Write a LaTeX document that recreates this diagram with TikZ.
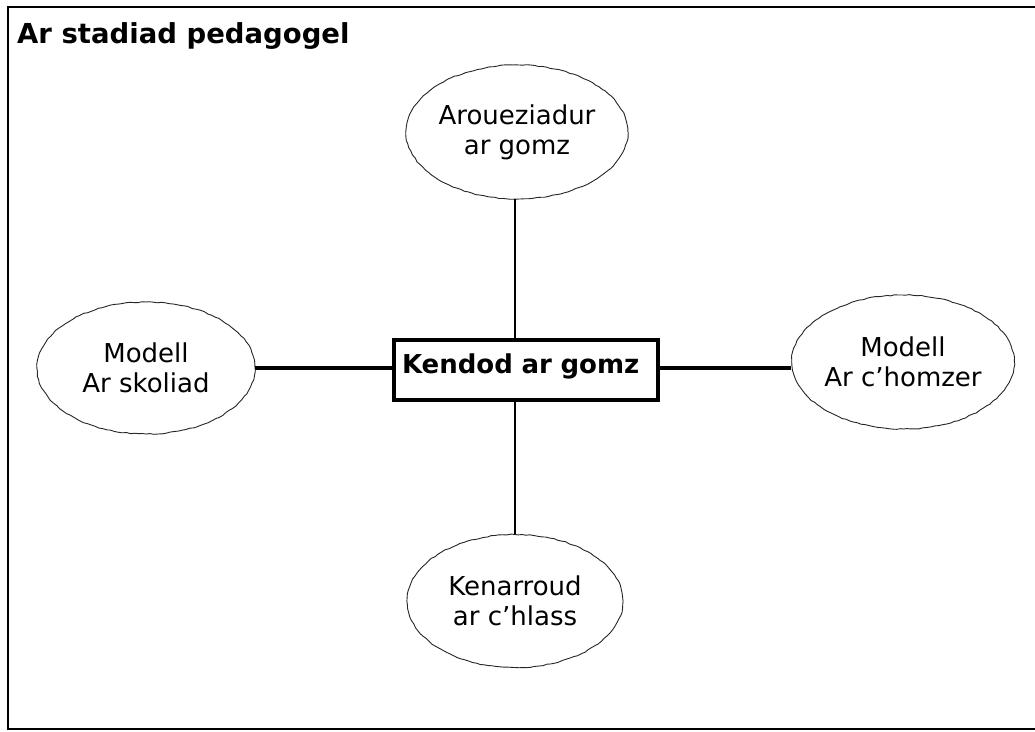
\documentclass[tikz,border=0pt]{standalone}
\usepackage{fontspec}
\setmainfont{DejaVu Sans}
\usetikzlibrary{shapes.geometric,decorations.pathmorphing}

\tikzset{
  topic/.style={ellipse, draw=black!85, line width=0.9pt, inner sep=0pt,
    align=center, font=\fontsize{26}{30}\selectfont,
    decorate, decoration={random steps, segment length=4pt, amplitude=0.5pt}},
  corebox/.style={draw, line width=4pt, minimum width=264pt, minimum height=60pt,
    text width=248pt, align=left, inner xsep=8pt, inner ysep=0pt,
    text height=20pt, text depth=14pt,
    font=\bfseries\fontsize{26}{30}\selectfont},
  heading/.style={anchor=base west, inner sep=0pt,
    font=\bfseries\fontsize{27.5}{32}\selectfont},
  vlink/.style={line width=2.5pt},
  hlink/.style={line width=4pt},
  frame/.style={line width=2.5pt},
}

\begin{document}
\begin{tikzpicture}[x=1pt, y=-1pt]
  \useasboundingbox (0,0) rectangle (1035,731);
  \clip (0,0) rectangle (1035,731);
  \fill[white] (0,0) rectangle (1035,731);

  % outer frame (runs past the right edge)
  \draw[frame] (8,7) rectangle (1045,729);

  % heading
  \node[heading] (title) at (17,43) {Ar stadiad pedagogel};

  % central box
  \node[corebox] (core) at (526,370) {Kendod ar gomz};

  % surrounding topics
  \node[topic, minimum width=220pt, minimum height=134pt] (top)   at (517,132) {Aroueziadur\\ar gomz};
  \node[topic, minimum width=218pt, minimum height=132pt] (skol)  at (146,368) {Modell\\Ar skoliad};
  \node[topic, minimum width=220pt, minimum height=134pt] (homz)  at (903,362) {Modell\\Ar c’homzer};
  \node[topic, minimum width=216pt, minimum height=133pt] (klass) at (515,601) {Kenarroud\\ar c’hlass};

  % axis through which the connectors run
  \coordinate (spine) at (515,368);

  \draw[vlink] (top.south -| spine) -- (core.north -| spine);
  \draw[vlink] (core.south -| spine) -- (klass.north -| spine);
  \draw[hlink] (skol.east |- spine) -- (core.west |- spine);
  \draw[hlink] (core.east |- spine) -- (homz.west |- spine);
\end{tikzpicture}
\end{document}
